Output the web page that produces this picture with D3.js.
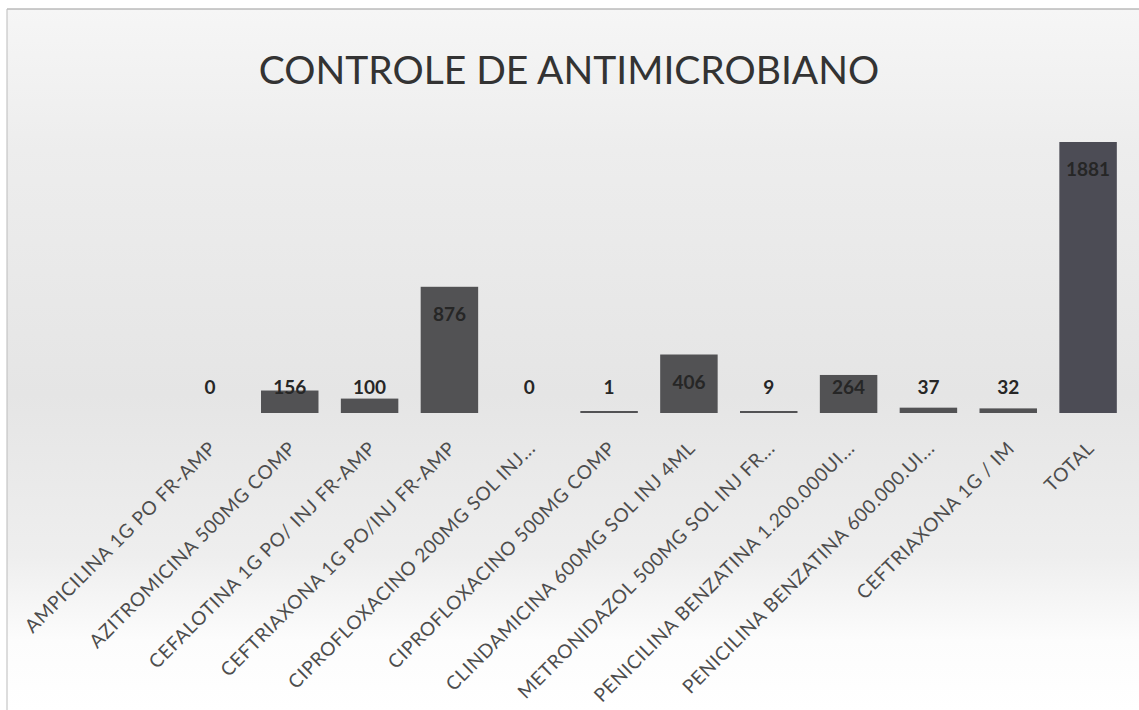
<!DOCTYPE html>
<html><head><meta charset="utf-8">
<script src="https://cdn.jsdelivr.net/npm/d3@7"></script>
<style>body{margin:0;background:#fff}svg{display:block}</style>
</head><body>
<svg id="c" width="1139" height="710"></svg>
<script>
const categories = [
  "AMPICILINA 1G PO FR-AMP",
  "AZITROMICINA 500MG COMP",
  "CEFALOTINA 1G PO/ INJ FR-AMP",
  "CEFTRIAXONA 1G PO/INJ FR-AMP",
  "CIPROFLOXACINO 200MG SOL INJ...",
  "CIPROFLOXACINO 500MG COMP",
  "CLINDAMICINA 600MG SOL INJ 4ML",
  "METRONIDAZOL 500MG SOL INJ FR...",
  "PENICILINA BENZATINA 1.200.000UI...",
  "PENICILINA BENZATINA 600.000.UI...",
  "CEFTRIAXONA 1G / IM",
  "TOTAL"
];
const values = [0, 156, 100, 876, 0, 1, 406, 9, 264, 37, 32, 1881];
const title = "CONTROLE DE ANTIMICROBIANO";

const svg = d3.select("#c");
const W = 1139, H = 710;
const defs = svg.append("defs");
const g1 = defs.append("linearGradient").attr("id","bg").attr("x1",0).attr("y1",0).attr("x2",0).attr("y2",1);
g1.append("stop").attr("offset","0%").attr("stop-color","#f6f6f6");
g1.append("stop").attr("offset","20%").attr("stop-color","#ededed");
g1.append("stop").attr("offset","55%").attr("stop-color","#e5e5e5");
g1.append("stop").attr("offset","78%").attr("stop-color","#eeeeee");
g1.append("stop").attr("offset","90%").attr("stop-color","#fcfcfc");
g1.append("stop").attr("offset","100%").attr("stop-color","#ffffff");
svg.append("rect").attr("x",0).attr("y",0).attr("width",W).attr("height",H).attr("fill","#ffffff");
svg.append("rect").attr("x",7).attr("y",9).attr("width",W-7).attr("height",H-9).attr("fill","url(#bg)");
svg.append("line").attr("x1",7).attr("x2",W).attr("y1",9).attr("y2",9).attr("stroke","#999").attr("stroke-width",1.2);
svg.append("line").attr("x1",7).attr("x2",7).attr("y1",9).attr("y2",H).attr("stroke","#bbb").attr("stroke-width",1);

svg.append("text").attr("x",569).attr("y",84).attr("text-anchor","middle")
  .attr("font-family","Lato, 'Open Sans', sans-serif").attr("font-size",39)
  .attr("fill","#333").text(title);

const x = d3.scaleBand().domain(categories).range([170,1128]).paddingInner(0.28).paddingOuter(0.14);
const y = d3.scaleLinear().domain([0,1881]).range([413,142]);

svg.append("g").selectAll("rect").data(values).join("rect")
  .attr("x",(d,i)=>x(categories[i]))
  .attr("y",d=>Math.min(y(d), y(0)-(d>0?2:0)))
  .attr("width",x.bandwidth())
  .attr("height",d=>d>0?Math.max(y(0)-y(d),2):0)
  .attr("fill",(d,i)=>i===categories.length-1?"#4c4c55":"#525254");

svg.append("g").selectAll("text").data(values).join("text")
  .attr("x",(d,i)=>x(categories[i])+x.bandwidth()/2)
  .attr("y",d=>Math.min(y(d)+28, y(0)-25)+6)
  .attr("text-anchor","middle")
  .attr("font-family","Lato, 'Open Sans', sans-serif").attr("font-weight","bold")
  .attr("font-size",19).attr("fill","#262626")
  .text(d=>d);

const axis = d3.axisBottom(x).tickSize(0).tickPadding(0);
const ax = svg.append("g").attr("transform","translate(0,418)").call(axis);
ax.select(".domain").remove();
ax.selectAll(".tick text")
  .attr("font-family","Lato, 'Open Sans', sans-serif").attr("font-size",19)
  .attr("letter-spacing","0.7px")
  .attr("fill","#4d4d4d").attr("text-anchor","end")
  .attr("dy","0.7em")
  .attr("transform","translate(-2,22) rotate(-45)");
</script>
</body></html>
